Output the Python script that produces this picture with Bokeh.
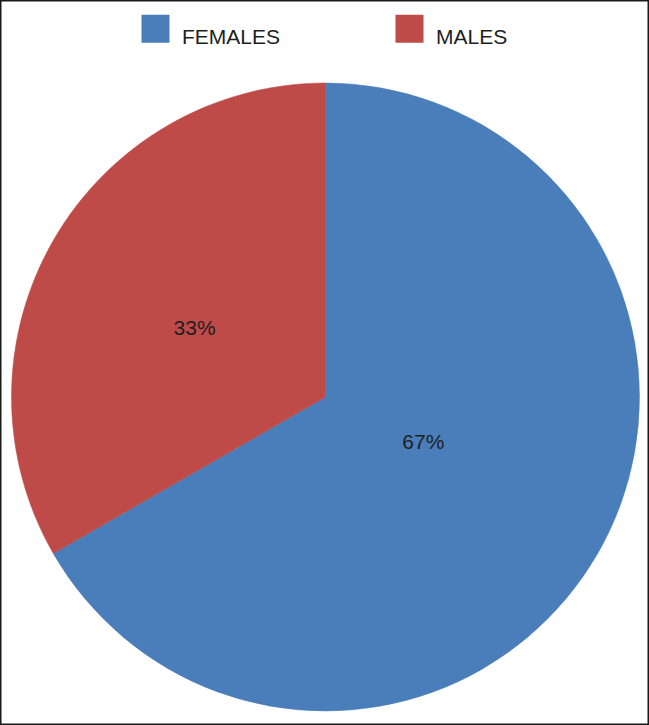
import numpy as np
from bokeh.plotting import figure
from bokeh.models import Range1d, ColumnDataSource
from bokeh.core.properties import value
from bokeh.embed import file_html
from bokeh.resources import INLINE

# ---- data ----
categories = ["FEMALES", "MALES"]
shares = [66.7, 33.3]
colors = ["#4A7EBB", "#BE4B48"]

# ---- layout (reference pixel space 649 x 725) ----
REF_W, REF_H = 649, 725
W, H = 649, 725
cx, cy_img, R = 325.0, 396.5, 314.0
cy = REF_H - cy_img
label_frac = [0.343, 0.472]
label_shift_deg = [5.4, 2.1]
FONT = "Liberation Sans"
TXT = "#1e1e1e"

p = figure(width=W, height=H, output_backend="svg", toolbar_location=None,
           x_range=Range1d(0, REF_W), y_range=Range1d(0, REF_H),
           min_border=0)
p.axis.visible = False
p.grid.visible = False
p.background_fill_color = "white"
p.border_fill_color = "white"
p.outline_line_color = "#1a1a1a"
p.outline_line_width = 2

vals = np.array(shares, dtype=float)
frac = vals / vals.sum()
cum = np.concatenate([[0.0], np.cumsum(frac)])
start = np.deg2rad(90 - cum[:-1] * 360)
end = np.deg2rad(90 - cum[1:] * 360)

src = ColumnDataSource(dict(start=start, end=end, color=colors, cat=categories))
p.wedge(x=cx, y=cy, radius=R, start_angle="start", end_angle="end",
        direction="clock", fill_color="color", line_color="color",
        line_width=0.5, source=src)

# percentage labels
mid = (start + end) / 2 + np.deg2rad(label_shift_deg)
lx = cx + np.array(label_frac) * R * np.cos(mid)
ly = cy + np.array(label_frac) * R * np.sin(mid)
pct = [f"{round(v / vals.sum() * 100):.0f}%" for v in vals]
p.text(x=lx, y=ly, text=pct, text_align="center", text_baseline="middle",
       text_font=value(FONT), text_font_size="21px", text_color=TXT)

# legend (manual, top)
leg_sq_x = [155.0, 409.0]
leg_sq_y = REF_H - 28.3
p.rect(x=leg_sq_x, y=[leg_sq_y] * 2, width=28, height=28, fill_color=colors,
       line_color=None)
p.text(x=[x + 26.5 for x in leg_sq_x], y=[REF_H - 35.6] * 2, text=categories,
       text_align="left", text_baseline="middle",
       text_font=value(FONT), text_font_size="21px", text_color=TXT)

open("out.html", "w").write(file_html(p, INLINE))
